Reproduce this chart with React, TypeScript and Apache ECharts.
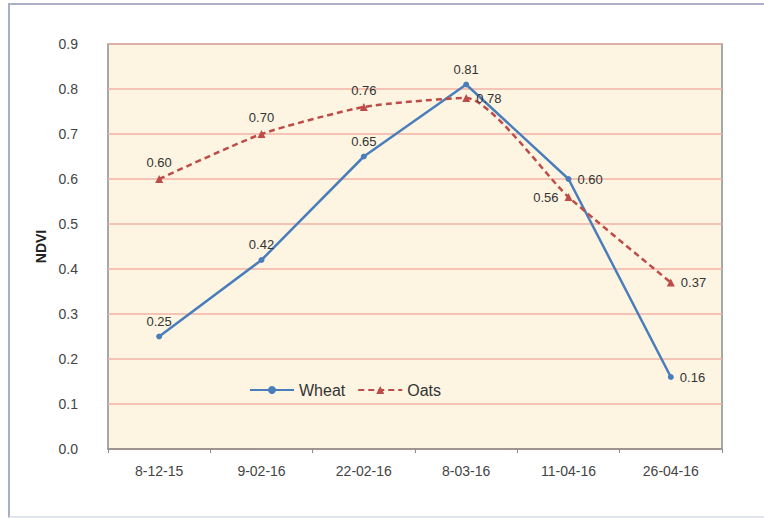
import React, { useEffect, useRef } from "react";
import * as echarts from "echarts";

const categories = ["8-12-15", "9-02-16", "22-02-16", "8-03-16", "11-04-16", "26-04-16"];
const wheat = [0.25, 0.42, 0.65, 0.81, 0.6, 0.16];
const oats = [0.6, 0.7, 0.76, 0.78, 0.56, 0.37];
const wheatLabelPos = ["top", "top", "top", "top", "right", "right"];
const oatsLabelPos = ["top", "top", "top", "right", "left", "right"];

export default function App() {
  const ref = useRef<HTMLDivElement>(null);
  useEffect(() => {
    const chart = echarts.init(ref.current!, null, { renderer: "svg" });
    const font = "'Liberation Sans', Arial, sans-serif";
    chart.setOption({
      animation: false,
      textStyle: { fontFamily: font },
      grid: {
        left: 108,
        right: 42,
        top: 44,
        bottom: 69,
        show: true,
        backgroundColor: "#FDF5E2",
        borderColor: "#8C8C8C",
        borderWidth: 1.5,
      },
      legend: {
        left: 244,
        top: 377,
        itemWidth: 44,
        itemHeight: 10,
        itemGap: 12,
        textStyle: { fontSize: 16, color: "#333", fontFamily: font },
        data: ["Wheat", "Oats"],
      },
      xAxis: {
        type: "category",
        data: categories,
        boundaryGap: true,
        axisLine: { lineStyle: { color: "#8C8C8C", width: 1.5 } },
        axisTick: { show: true, length: 4, lineStyle: { color: "#8C8C8C" } },
        axisLabel: { color: "#444", fontSize: 14, margin: 15, fontFamily: font },
      },
      yAxis: {
        type: "value",
        min: 0,
        max: 0.9,
        interval: 0.1,
        name: "NDVI",
        nameLocation: "middle",
        nameGap: 58,
        nameTextStyle: { fontWeight: "bold", fontSize: 14, color: "#222", fontFamily: font },
        axisLine: { show: false },
        axisTick: { show: false },
        axisLabel: {
          color: "#444",
          fontSize: 14,
          margin: 30,
          fontFamily: font,
          formatter: (v: number) => v.toFixed(1),
        },
        splitLine: { lineStyle: { color: "#F0B2A6", width: 1.5 } },
      },
      series: [
        {
          name: "Wheat",
          type: "line",
          data: wheat.map((v, i) => ({
            value: v,
            label: { position: wheatLabelPos[i] },
          })),
          symbol: "circle",
          symbolSize: 6,
          lineStyle: { color: "#4A7EBB", width: 2.5 },
          itemStyle: { color: "#4A7EBB" },
          label: {
            show: true,
            fontSize: 13,
            color: "#333",
            distance: 6,
            fontFamily: font,
            formatter: (p: any) => p.value.toFixed(2),
          },
        },
        {
          name: "Oats",
          type: "line",
          smooth: 0.2,
          data: oats.map((v, i) => ({
            value: v,
            label: { position: oatsLabelPos[i] },
          })),
          symbol: "triangle",
          symbolSize: 8,
          lineStyle: { color: "#BE4B48", width: 2.5, type: [6, 4] },
          itemStyle: { color: "#BE4B48" },
          label: {
            show: true,
            fontSize: 13,
            color: "#333",
            distance: 6,
            fontFamily: font,
            formatter: (p: any) => p.value.toFixed(2),
          },
        },
      ],
    });
    return () => chart.dispose();
  }, []);
  return (
    <div style={{ position: "absolute", left: 0, top: 0, width: 764, height: 518, background: "#fff" }}>
      <div
        style={{
          position: "absolute",
          left: 8,
          top: 3,
          width: 770,
          height: 511,
          borderLeft: "2px solid #A9AFC4",
          borderTop: "2px solid #A9AFC4",
          borderBottom: "2px solid #E2E4EE",
        }}
      />
      <div ref={ref} style={{ position: "absolute", left: 0, top: 0, width: 764, height: 518 }} />
    </div>
  );
}
